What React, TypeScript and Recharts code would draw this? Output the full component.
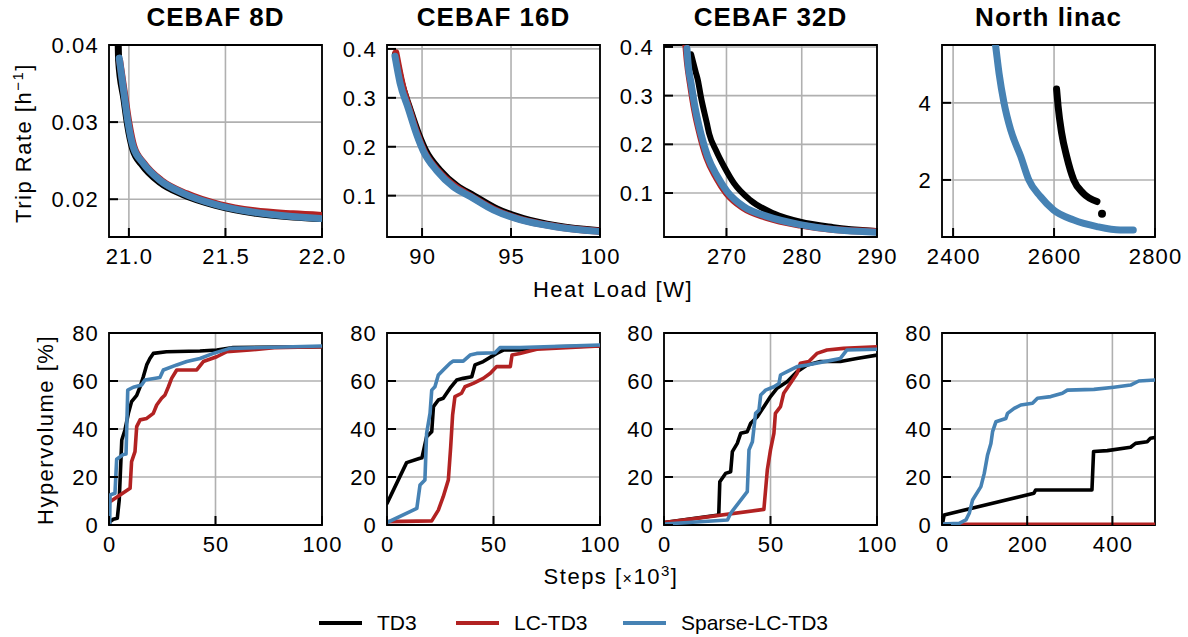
import React from 'react';
import {
  ComposedChart,
  Line,
  Scatter,
  XAxis,
  YAxis,
  CartesianGrid,
  ReferenceArea,
} from 'recharts';

type Pt = [number, number];

// ---- Pareto fronts (top row): [heat load W, trip rate 1/h]
const td3Front8D: Pt[] = [[20.944, 0.041], [20.947, 0.038], [20.975, 0.0329], [20.993, 0.0297], [21.02, 0.0265], [21.07, 0.0244], [21.16, 0.0222], [21.28, 0.0206], [21.45, 0.0192], [21.65, 0.0182], [21.85, 0.0177], [22.0, 0.0175]];
const lcFront8D: Pt[] = [[20.952, 0.038], [20.982, 0.0329], [21.0, 0.0299], [21.025, 0.0269], [21.08, 0.0246], [21.17, 0.0224], [21.3, 0.0207], [21.47, 0.0193], [21.65, 0.0185], [21.85, 0.0181], [22.0, 0.0179]];
const sparseFront8D: Pt[] = [[20.95, 0.0383], [20.965, 0.0355], [20.979, 0.0329], [20.996, 0.0299], [21.022, 0.0268], [21.073, 0.0247], [21.159, 0.0225], [21.279, 0.0208], [21.45, 0.0193], [21.623, 0.0184], [21.83, 0.0178], [21.88, 0.0177], [21.99, 0.0175]];

const td3Front16D: Pt[] = [[88.5, 0.388], [88.85, 0.33], [89.3, 0.279], [89.8, 0.226], [90.2, 0.192], [91.0, 0.152], [91.95, 0.12], [92.9, 0.1], [94.2, 0.073], [95.7, 0.053], [97.6, 0.038], [100, 0.028]];
const lcFront16D: Pt[] = [[88.53, 0.392], [88.9, 0.325], [89.3, 0.275], [89.75, 0.224], [90.1, 0.192], [90.9, 0.151], [91.85, 0.119], [92.8, 0.098], [94.1, 0.071], [95.6, 0.051], [97.5, 0.037], [100, 0.027]];
const sparseFront16D: Pt[] = [[88.48, 0.385], [88.76, 0.331], [89.23, 0.278], [89.7, 0.225], [90.07, 0.1915], [90.83, 0.151], [91.77, 0.118], [92.73, 0.098], [94.0, 0.071], [95.5, 0.051], [97.4, 0.037], [99.9, 0.027]];

const td3Front32D: Pt[] = [[265.3, 0.385], [265.9, 0.349], [266.2, 0.332], [266.6, 0.298], [267.4, 0.243], [267.7, 0.222], [268.6, 0.188], [269.7, 0.154], [271.0, 0.12], [273.2, 0.085], [276.3, 0.058], [279.8, 0.041], [284.2, 0.03], [289.8, 0.022]];
const lcFront32D: Pt[] = [[264.6, 0.404], [264.8, 0.37], [265.2, 0.325], [265.8, 0.268], [266.5, 0.22], [267.4, 0.172], [268.7, 0.131], [270.0, 0.1], [272.2, 0.07], [275.3, 0.05], [279.8, 0.034], [284.2, 0.025], [290, 0.021]];
const sparseFront32D: Pt[] = [[264.75, 0.397], [264.9, 0.366], [265.3, 0.325], [265.9, 0.27], [266.6, 0.222], [267.5, 0.175], [268.8, 0.134], [270.1, 0.103], [272.3, 0.072], [275.4, 0.052], [279.8, 0.035], [284.2, 0.025], [289.8, 0.0197]];

const td3FrontNL: Pt[] = [[2605, 4.36], [2608, 3.91], [2615, 3.22], [2625, 2.61], [2639, 2.0], [2658, 1.65], [2685, 1.44]];
const td3FrontNLOutlier: Pt[] = [[2695, 1.12]];
const sparseFrontNL: Pt[] = [[2483, 5.6], [2484.4, 5.46], [2491, 4.77], [2501, 3.99], [2514, 3.3], [2534, 2.61], [2550, 2.0], [2573, 1.57], [2599, 1.22], [2639, 0.96], [2685, 0.79], [2731, 0.7], [2757, 0.7]];

// ---- Hypervolume curves (bottom row): [steps x1e3, hypervolume %]
const td3Hv8D: Pt[] = [[0, 0], [0.5, 1.4], [2, 2.4], [3.9, 2.8], [4.8, 10.4], [6, 35.4], [7.5, 39.6], [9.1, 46.5], [10.6, 51.4], [13, 54], [14.6, 57.6], [16.1, 61.8], [17.7, 66.7], [19.2, 69.4], [20.8, 71.5], [27, 72.2], [42.7, 72.5], [50.6, 72.9], [58.3, 73.9], [100, 74.3]];
const lcHv8D: Pt[] = [[1, 10], [9.9, 15.3], [10.6, 26.4], [12.2, 30.6], [13, 41], [14.6, 43.8], [17.7, 44.4], [20.8, 46.5], [22.4, 50], [24.7, 52.8], [26.3, 54.2], [27.9, 57.6], [29.4, 61.1], [31.8, 64.6], [41.2, 64.6], [44.3, 68.1], [50.6, 70.1], [55.3, 72.2], [66.2, 72.9], [77.4, 73.9], [100, 74.3]];
const sparseHv8D: Pt[] = [[0.3, 0], [0.5, 12.5], [2.8, 13.2], [3.6, 27.4], [6.7, 29.4], [8, 29.6], [8.8, 56.2], [11.4, 57.4], [15.3, 58.3], [16.9, 60.4], [23.9, 61.5], [25.5, 64.6], [31.8, 66.7], [36.5, 68.1], [42.7, 69.4], [49, 71.5], [56.8, 73.6], [100, 74.6]];

const td3Hv16D: Pt[] = [[0, 9], [9.2, 26], [15.5, 27.8], [16.4, 28], [18.6, 36.8], [21, 38.9], [21.8, 49.3], [24.1, 52.1], [26.4, 52.8], [29.6, 57], [32.7, 60.4], [35.8, 61.1], [39.8, 61.8], [41.3, 66.7], [45.2, 68.1], [51.5, 71.5], [54.6, 72.9], [62.4, 72.9], [78.1, 74.3], [100, 74.6]];
const lcHv16D: Pt[] = [[0, 1.4], [21, 1.7], [24.1, 6.2], [26.4, 11.8], [28.8, 18.8], [29.9, 32.6], [30.8, 45.8], [31.9, 53.5], [35, 54.9], [36.6, 57.6], [40.5, 59], [45.2, 61.1], [48.5, 63.2], [51.5, 66], [57.9, 66], [58.7, 70.8], [62.4, 71.5], [70.3, 73.2], [100, 74.6]];
const sparseHv16D: Pt[] = [[0, 1], [14, 6.9], [15.5, 16.7], [17.8, 18.8], [18.6, 38.2], [20.2, 46.5], [21, 56.2], [22.5, 57.6], [24.1, 62.5], [26.4, 64.6], [29.6, 67.4], [31.1, 68.3], [35.8, 68.3], [39, 70.8], [42.1, 71.5], [50.7, 71.8], [53, 73.9], [62.4, 73.9], [100, 75]];

const td3Hv32D: Pt[] = [[0, 1], [25.7, 4.2], [26.2, 18], [28.9, 21.5], [31.3, 22.2], [32.1, 30.6], [34.4, 34], [36, 38.2], [39.1, 38.9], [40.7, 42.4], [43.8, 45.1], [46.9, 49.3], [50, 53.5], [53.1, 57], [57.8, 59.7], [62.5, 63.9], [67.2, 66.7], [73.4, 68.1], [82.8, 68.1], [90.5, 69.4], [100, 70.8]];
const lcHv32D: Pt[] = [[0, 1], [46.9, 6.5], [48.5, 22.9], [50, 31.3], [51.6, 38.2], [52.3, 46.5], [54.7, 49.3], [56.2, 54.9], [59.3, 59], [62.5, 63.2], [64, 67.4], [68, 68.1], [71.8, 71.5], [76.5, 72.9], [84.3, 73.6], [100, 74.3]];
const sparseHv32D: Pt[] = [[0, 0.4], [29.8, 2.1], [31.3, 4.9], [39.1, 13.9], [39.9, 31.3], [41.5, 34.7], [43, 46.5], [44.6, 47.9], [45.4, 54.2], [47.7, 56.2], [51.6, 57.6], [54, 59], [54.7, 62.5], [57.8, 63.9], [62.5, 66], [67.2, 66.7], [79.6, 68.8], [82.8, 69.4], [85.8, 72.9], [100, 73.2]];

const td3HvNL: Pt[] = [[0, 1], [1.6, 1], [5, 4.2], [215.8, 13.2], [219.7, 14.6], [352, 14.6], [355.8, 30.6], [388, 31], [442.6, 32.4], [454.3, 34], [481.6, 34.7], [489.3, 36.1], [500, 36.5]];
const lcHvNL: Pt[] = [[0, 0.3], [500, 0.3]];
const sparseHvNL: Pt[] = [[0, 0.4], [40.5, 0.7], [56.2, 2.1], [64, 4.9], [71.8, 10.4], [91.3, 16], [99.2, 21.5], [107, 29.2], [114.8, 34], [118.7, 38.9], [126.5, 43], [149.9, 44.4], [153.8, 46.5], [169.4, 48.6], [185, 50], [212.4, 50.7], [224.1, 52.8], [255.3, 53.5], [282.6, 54.9], [294.3, 56.2], [356.6, 56.5], [403.4, 57.4], [442.6, 58.3], [462, 60], [500, 60.4]];

const titles = ['CEBAF 8D', 'CEBAF 16D', 'CEBAF 32D', 'North linac'];
const legendLabels = ['TD3', 'LC-TD3', 'Sparse-LC-TD3'];

const BLACK = '#000000';
const RED = '#b22222';
const BLUE = '#4682b4';
const FONT = '"Liberation Sans", Arial, Helvetica, sans-serif';

const PANEL_LEFTS = [109, 387, 664, 942];
const TOP_Y = 45;
const BOTTOM_Y = 333;
const BOX_W = 213;
const BOX_H = 192;
const PAD = { top: 50, right: 45, bottom: 45, left: 85 };
// axes get a 1px band (0 would stop recharts from drawing them)
const AXIS_BAND = 1;

const tickStyle: React.CSSProperties = { fontFamily: FONT, fontSize: 22, letterSpacing: 1.2, fill: '#000' };

interface SeriesDef {
  pts: Pt[];
  color: string;
  width: number;
  smooth?: boolean;
}

interface PanelProps {
  left: number;
  top: number;
  xDomain: [number, number];
  yDomain: [number, number];
  xTicks: number[];
  yTicks: number[];
  xFmt: (v: number) => string;
  yFmt: (v: number) => string;
  series: SeriesDef[];
  dots?: { pts: Pt[]; color: string }[];
}

const toRows = (pts: Pt[]) => pts.map(([x, y]) => ({ x, y }));

function Panel({ left, top, xDomain, yDomain, xTicks, yTicks, xFmt, yFmt, series, dots }: PanelProps) {
  const renderXTick = (p: any) => (
    <g>
      <line x1={p.x} x2={p.x} y1={p.y} y2={p.y - 9} stroke="#000" strokeWidth={2} />
      <text x={p.x + 0.6} y={p.y + 27} textAnchor="middle" style={tickStyle}>
        {xFmt(p.payload.value)}
      </text>
    </g>
  );
  const renderYTick = (p: any) => (
    <g>
      <line x1={p.x} x2={p.x + 9} y1={p.y} y2={p.y} stroke="#000" strokeWidth={2} />
      <text x={p.x - 10} y={p.y} dy="0.36em" textAnchor="end" style={tickStyle}>
        {yFmt(p.payload.value)}
      </text>
    </g>
  );

  return (
    <div style={{ position: 'absolute', left: left - PAD.left, top: top - PAD.top }}>
      <ComposedChart
        width={BOX_W + PAD.left + PAD.right}
        height={BOX_H + PAD.top + PAD.bottom}
        margin={{ top: PAD.top, right: PAD.right, bottom: PAD.bottom - AXIS_BAND, left: PAD.left - AXIS_BAND }}
      >
        <CartesianGrid stroke="#b0b0b0" strokeWidth={1.6} />
        <XAxis
          type="number"
          dataKey="x"
          domain={xDomain}
          ticks={xTicks}
          allowDataOverflow
          interval={0}
          height={AXIS_BAND}
          tickSize={0}
          tickMargin={0}
          axisLine={false}
          tickLine={false}
          tick={renderXTick}
        />
        <YAxis
          type="number"
          dataKey="y"
          domain={yDomain}
          ticks={yTicks}
          allowDataOverflow
          interval={0}
          width={AXIS_BAND}
          tickSize={0}
          tickMargin={0}
          axisLine={false}
          tickLine={false}
          tick={renderYTick}
        />
        {series.map((s, i) => (
          <Line
            key={i}
            data={toRows(s.pts)}
            dataKey="y"
            type={s.smooth ? 'monotone' : 'linear'}
            stroke={s.color}
            strokeWidth={s.width}
            strokeLinecap="round"
            strokeLinejoin="round"
            dot={false}
            activeDot={false}
            isAnimationActive={false}
          />
        ))}
        {(dots || []).map((d, i) => (
          <Scatter
            key={'d' + i}
            data={toRows(d.pts)}
            dataKey="y"
            fill={d.color}
            shape={(p: any) => <circle cx={p.cx} cy={p.cy} r={4} fill={d.color} />}
            isAnimationActive={false}
          />
        ))}
        <ReferenceArea
          x1={xDomain[0]}
          x2={xDomain[1]}
          y1={yDomain[0]}
          y2={yDomain[1]}
          fill="none"
          stroke="#000"
          strokeWidth={1.8}
        />
      </ComposedChart>
    </div>
  );
}

const f1 = (v: number) => v.toFixed(1);
const f2 = (v: number) => v.toFixed(2);
const f0 = (v: number) => String(v);

const front = (pts: Pt[], color: string, width = 7): SeriesDef => ({ pts, color, width, smooth: true });
const hv = (pts: Pt[], color: string): SeriesDef => ({ pts, color, width: 3.6 });

export default function App() {
  const textBase: React.CSSProperties = {
    position: 'absolute',
    fontFamily: FONT,
    color: '#000',
    whiteSpace: 'nowrap',
  };
  const labelText: React.CSSProperties = { ...textBase, fontSize: 22, letterSpacing: 1.5 };

  return (
    <div style={{ position: 'absolute', left: 0, top: 0, width: 1188, height: 637, background: '#fff', overflow: 'hidden' }}>
      {titles.map((t, i) => (
        <div
          key={t}
          style={{
            ...textBase,
            left: PANEL_LEFTS[i] + BOX_W / 2,
            top: 2,
            transform: 'translateX(-50%)',
            fontSize: 26,
            fontWeight: 'bold',
            letterSpacing: 1,
          }}
        >
          {t}
        </div>
      ))}

      {/* top row: Pareto fronts */}
      <Panel
        left={PANEL_LEFTS[0]}
        top={TOP_Y}
        xDomain={[20.897, 22.0]}
        yDomain={[0.0151, 0.04]}
        xTicks={[21.0, 21.5, 22.0]}
        yTicks={[0.02, 0.03, 0.04]}
        xFmt={f1}
        yFmt={f2}
        series={[front(td3Front8D, BLACK), front(lcFront8D, RED), front(sparseFront8D, BLUE)]}
      />
      <Panel
        left={PANEL_LEFTS[1]}
        top={TOP_Y}
        xDomain={[88.03, 100]}
        yDomain={[0.0155, 0.408]}
        xTicks={[90, 95, 100]}
        yTicks={[0.1, 0.2, 0.3, 0.4]}
        xFmt={f0}
        yFmt={f1}
        series={[front(td3Front16D, BLACK), front(lcFront16D, RED), front(sparseFront16D, BLUE)]}
      />
      <Panel
        left={PANEL_LEFTS[2]}
        top={TOP_Y}
        xDomain={[261.7, 290]}
        yDomain={[0.0097, 0.404]}
        xTicks={[270, 280, 290]}
        yTicks={[0.1, 0.2, 0.3, 0.4]}
        xFmt={f0}
        yFmt={f1}
        series={[front(td3Front32D, BLACK, 6), front(lcFront32D, RED), front(sparseFront32D, BLUE)]}
      />
      <Panel
        left={PANEL_LEFTS[3]}
        top={TOP_Y}
        xDomain={[2378, 2800]}
        yDomain={[0.52, 5.5]}
        xTicks={[2400, 2600, 2800]}
        yTicks={[2, 4]}
        xFmt={f0}
        yFmt={f0}
        series={[front(td3FrontNL, BLACK), front(sparseFrontNL, BLUE)]}
        dots={[{ pts: td3FrontNLOutlier, color: BLACK }]}
      />

      {/* bottom row: hypervolume */}
      <Panel
        left={PANEL_LEFTS[0]}
        top={BOTTOM_Y}
        xDomain={[0, 100]}
        yDomain={[0, 80]}
        xTicks={[0, 50, 100]}
        yTicks={[0, 20, 40, 60, 80]}
        xFmt={f0}
        yFmt={f0}
        series={[hv(td3Hv8D, BLACK), hv(lcHv8D, RED), hv(sparseHv8D, BLUE)]}
      />
      <Panel
        left={PANEL_LEFTS[1]}
        top={BOTTOM_Y}
        xDomain={[0, 100]}
        yDomain={[0, 80]}
        xTicks={[0, 50, 100]}
        yTicks={[0, 20, 40, 60, 80]}
        xFmt={f0}
        yFmt={f0}
        series={[hv(td3Hv16D, BLACK), hv(lcHv16D, RED), hv(sparseHv16D, BLUE)]}
      />
      <Panel
        left={PANEL_LEFTS[2]}
        top={BOTTOM_Y}
        xDomain={[0, 100]}
        yDomain={[0, 80]}
        xTicks={[0, 50, 100]}
        yTicks={[0, 20, 40, 60, 80]}
        xFmt={f0}
        yFmt={f0}
        series={[hv(td3Hv32D, BLACK), hv(lcHv32D, RED), hv(sparseHv32D, BLUE)]}
      />
      <Panel
        left={PANEL_LEFTS[3]}
        top={BOTTOM_Y}
        xDomain={[0, 500]}
        yDomain={[0, 80]}
        xTicks={[0, 200, 400]}
        yTicks={[0, 20, 40, 60, 80]}
        xFmt={f0}
        yFmt={f0}
        series={[hv(td3HvNL, BLACK), hv(lcHvNL, RED), hv(sparseHvNL, BLUE)]}
      />

      {/* axis labels */}
      <div
        style={{
          ...labelText,
          left: 23,
          top: 143,
          transform: 'translate(-50%, -50%) rotate(-90deg)',
        }}
      >
        Trip Rate [h<sup style={{ fontSize: 15 }}>−1</sup>]
      </div>
      <div
        style={{
          ...labelText,
          left: 46,
          top: 430,
          transform: 'translate(-50%, -50%) rotate(-90deg)',
        }}
      >
        Hypervolume [%]
      </div>
      <div style={{ ...labelText, left: 613, top: 277, transform: 'translateX(-50%)' }}>Heat Load [W]</div>
      <div style={{ ...labelText, left: 611, top: 562, transform: 'translateX(-50%)' }}>
        Steps [<span style={{ fontSize: 16 }}>×</span>10<sup style={{ fontSize: 15 }}>3</sup>]
      </div>

      {/* legend */}
      {legendLabels.map((label, i) => {
        const lefts = [319, 456, 623];
        const colors = [BLACK, RED, BLUE];
        return (
          <div
            key={label}
            style={{ ...textBase, left: lefts[i], top: 610, display: 'flex', alignItems: 'center', height: 26 }}
          >
            <div style={{ width: 43, height: 4, background: colors[i], marginRight: 15 }} />
            <span style={{ fontSize: 21 }}>{label}</span>
          </div>
        );
      })}
    </div>
  );
}
